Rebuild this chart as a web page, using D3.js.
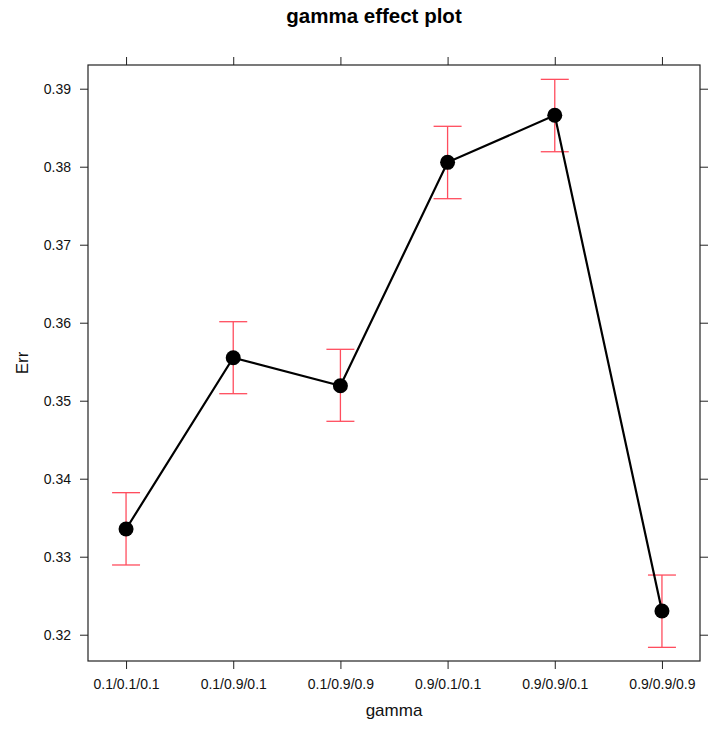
<!DOCTYPE html>
<html>
<head>
<meta charset="utf-8">
<script src="https://cdn.jsdelivr.net/npm/d3@7"></script>
<style>
  html, body { margin: 0; padding: 0; background: #fff; }
  svg { display: block; font-family: "Liberation Sans", Arial, Helvetica, sans-serif; }
</style>
</head>
<body>
<script>
// Effect of gamma setting on error, with confidence intervals
const categories = ["0.1/0.1/0.1", "0.1/0.9/0.1", "0.1/0.9/0.9", "0.9/0.1/0.1", "0.9/0.9/0.1", "0.9/0.9/0.9"];
const fit   = [0.33355, 0.35551, 0.35192, 0.38056, 0.38659, 0.32304];
const lower = [0.32894, 0.35090, 0.34736, 0.37590, 0.38192, 0.31838];
const upper = [0.33821, 0.36013, 0.35659, 0.38518, 0.39120, 0.32765];
const yTicks = [0.32, 0.33, 0.34, 0.35, 0.36, 0.37, 0.38, 0.39];

const W = 723, H = 735;
const panel = { left: 88, right: 700, top: 65, bottom: 661 };
const tickLen = 8;
const frameColor = "#222";
const ciColor = "#ff4d5e";

const svg = d3.select("body").append("svg")
  .attr("width", W).attr("height", H);

const x = d3.scalePoint()
  .domain(categories)
  .range([panel.left, panel.right])
  .padding(0.355);

const y = d3.scaleLinear()
  .domain([0.31663, 0.39304])
  .range([panel.bottom, panel.top]);

// Axes on all four sides (labels only on left and bottom)
const axisStyle = g => {
  g.select(".domain").remove();
  g.selectAll(".tick line").attr("stroke", frameColor).attr("stroke-width", 1);
  g.selectAll(".tick text").attr("fill", "#111").attr("font-size", 14)
    .attr("font-family", "'Liberation Sans', Arial, sans-serif");
};

svg.append("g")
  .attr("transform", `translate(0,${panel.bottom})`)
  .call(d3.axisBottom(x).tickSize(tickLen).tickPadding(10))
  .call(axisStyle);

svg.append("g")
  .attr("transform", `translate(0,${panel.top})`)
  .call(d3.axisTop(x).tickSize(tickLen).tickFormat(""))
  .call(axisStyle);

svg.append("g")
  .attr("transform", `translate(${panel.left},0)`)
  .call(d3.axisLeft(y).tickValues(yTicks).tickSize(tickLen).tickPadding(9).tickFormat(d3.format(".2f")))
  .call(axisStyle);

svg.append("g")
  .attr("transform", `translate(${panel.right},0)`)
  .call(d3.axisRight(y).tickValues(yTicks).tickSize(tickLen).tickFormat(""))
  .call(axisStyle);

// Panel frame
svg.append("rect")
  .attr("x", panel.left).attr("y", panel.top)
  .attr("width", panel.right - panel.left).attr("height", panel.bottom - panel.top)
  .attr("fill", "none").attr("stroke", frameColor).attr("stroke-width", 1.2);

const rows = categories.map((c, i) => ({ c, fit: fit[i], lo: lower[i], hi: upper[i] }));

// Confidence interval bars
const ci = svg.append("g").attr("stroke", ciColor).attr("stroke-width", 1.3).attr("fill", "none");
const capHalf = 14;
rows.forEach(d => {
  const cx = x(d.c);
  ci.append("line").attr("x1", cx).attr("x2", cx).attr("y1", y(d.lo)).attr("y2", y(d.hi));
  ci.append("line").attr("x1", cx - capHalf).attr("x2", cx + capHalf).attr("y1", y(d.hi)).attr("y2", y(d.hi));
  ci.append("line").attr("x1", cx - capHalf).attr("x2", cx + capHalf).attr("y1", y(d.lo)).attr("y2", y(d.lo));
});

// Fitted line and points
svg.append("path")
  .datum(rows)
  .attr("fill", "none").attr("stroke", "#000").attr("stroke-width", 2.2)
  .attr("d", d3.line().x(d => x(d.c)).y(d => y(d.fit)));

svg.append("g").selectAll("circle")
  .data(rows).join("circle")
  .attr("cx", d => x(d.c)).attr("cy", d => y(d.fit))
  .attr("r", 7.5).attr("fill", "#000");

// Titles
svg.append("text")
  .attr("x", 374).attr("y", 23)
  .attr("text-anchor", "middle")
  .attr("font-size", 20.5).attr("font-weight", "bold").attr("fill", "#000")
  .text("gamma effect plot");

svg.append("text")
  .attr("x", (panel.left + panel.right) / 2).attr("y", 716)
  .attr("text-anchor", "middle")
  .attr("font-size", 17).attr("fill", "#111")
  .text("gamma");

svg.append("text")
  .attr("transform", `translate(28,${(panel.top + panel.bottom) / 2}) rotate(-90)`)
  .attr("text-anchor", "middle")
  .attr("font-size", 17).attr("fill", "#111")
  .text("Err");
</script>
</body>
</html>
